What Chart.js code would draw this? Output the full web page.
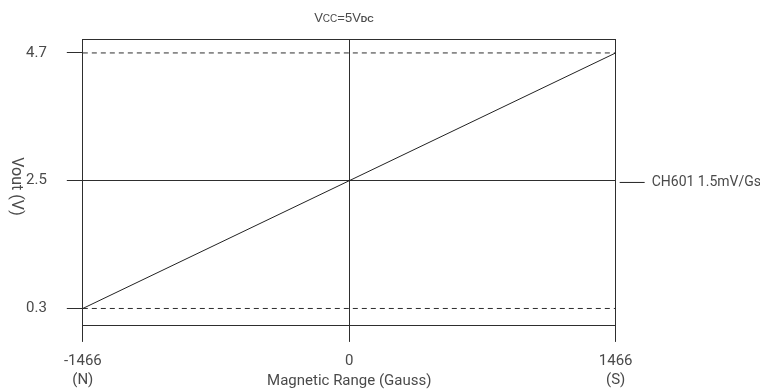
<!DOCTYPE html>
<html>
<head>
<meta charset="utf-8">
<script src="https://cdn.jsdelivr.net/npm/chart.js@4/dist/chart.umd.min.js"></script>
<style>
  html, body { margin: 0; padding: 0; background: #fff; }
  #wrap { width: 760px; height: 391px; position: relative; }
</style>
</head>
<body>
<div id="wrap"><canvas id="c"></canvas></div>
<script>
// ---- data ----
const xTickValues = [-1466, 0, 1466];
const xTickLabels = [["-1466", "(N)"], ["0"], ["1466", "(S)"]];
const yTickValues = [0.3, 2.5, 4.7];
const fieldGauss = [-1466, 0, 1466];
const voutCH601 = [0.3, 2.5, 4.7];
const limitLevels = [0.3, 4.7];
const seriesName = "CH601 1.5mV/Gs";
const xTitle = "Magnetic Range (Gauss)";
const yTitle = "Vout (V)";

const INK = '#2e2e2e';
const TEXT = '#4a4a4a';
const FONT = 'Roboto, "Noto Sans", sans-serif';

const datasets = [{
  label: seriesName,
  data: fieldGauss.map((x, i) => ({ x: x, y: voutCH601[i] })),
  borderColor: '#222222',
  backgroundColor: '#222222',
  borderWidth: 1,
  pointRadius: 0,
  showLine: true,
  order: 0
}];
limitLevels.forEach(lv => {
  datasets.push({
    label: 'limit ' + lv,
    data: [{ x: xTickValues[0], y: lv }, { x: xTickValues[xTickValues.length - 1], y: lv }],
    borderColor: INK,
    borderWidth: 1,
    borderDash: [5, 4],
    pointRadius: 0,
    showLine: true,
    order: 1
  });
});

const framePlugin = {
  id: 'frame',
  afterDatasetsDraw(chart) {
    const { ctx, chartArea: a } = chart;
    const top = Math.round(a.top - 0.5) + 0.5;
    ctx.save();
    ctx.strokeStyle = INK;
    ctx.lineWidth = 1;
    ctx.beginPath();
    ctx.moveTo(chart.scales.x.getPixelForValue(xTickValues[0]), top);
    ctx.lineTo(chart.scales.x.getPixelForValue(xTickValues[xTickValues.length - 1]), top);
    ctx.stroke();
    ctx.restore();
  },
  afterDraw(chart) {
    const { ctx, chartArea: a } = chart;
    ctx.save();
    // top title  Vcc=5VDC
    const parts = [
      { t: 'V', f: '13px Arial, "Liberation Sans", sans-serif' },
      { t: 'CC', f: '10px Arial, "Liberation Sans", sans-serif' },
      { t: '=5V', f: '13px Arial, "Liberation Sans", sans-serif' },
      { t: 'DC', f: 'bold 9px Arial, "Liberation Sans", sans-serif' }
    ];
    let total = 0;
    parts.forEach(p => { ctx.font = p.f; p.w = ctx.measureText(p.t).width; total += p.w; });
    let x = 344 - total / 2;
    ctx.fillStyle = TEXT;
    ctx.textBaseline = 'alphabetic';
    ctx.textAlign = 'left';
    parts.forEach(p => { ctx.font = p.f; ctx.fillText(p.t, x, 22); x += p.w; });
    // y title rotated clockwise
    ctx.translate(16, (a.top + a.bottom) / 2 + 4);
    ctx.rotate(Math.PI / 2);
    ctx.font = '16px ' + FONT;
    ctx.textAlign = 'center';
    ctx.textBaseline = 'middle';
    ctx.fillText(yTitle, 0, 0);
    ctx.restore();
  }
};

new Chart(document.getElementById('c'), {
  type: 'scatter',
  data: { datasets: datasets },
  plugins: [framePlugin],
  options: {
    responsive: true,
    maintainAspectRatio: false,
    animation: false,
    layout: { padding: { top: 39, left: 6, right: -11, bottom: 1 } },
    plugins: {
      title: { display: false },
      tooltip: { enabled: false },
      legend: {
        position: 'right',
        fullSize: false,
        labels: {
          filter: item => item.text === seriesName,
          usePointStyle: true,
          pointStyle: 'line',
          pointStyleWidth: 25,
          boxHeight: 1,
          color: TEXT,
          font: { family: FONT, size: 14 },
          padding: 4
        }
      }
    },
    scales: {
      x: {
        type: 'linear',
        min: xTickValues[0],
        max: xTickValues[xTickValues.length - 1],
        afterBuildTicks: s => { s.ticks = xTickValues.map(v => ({ value: v })); },
        ticks: {
          autoSkip: false,
          maxRotation: 0,
          color: TEXT,
          font: { family: FONT, size: 15, lineHeight: 1.27 },
          padding: 9.5,
          callback: v => xTickLabels[xTickValues.indexOf(v)]
        },
        grid: { color: INK, lineWidth: 1, tickLength: 16, tickColor: INK },
        border: { color: INK },
        title: {
          display: true, text: xTitle, color: TEXT,
          font: { family: FONT, size: 15 },
          padding: { top: -27, bottom: 0 }
        }
      },
      y: {
        type: 'linear',
        min: 0,
        max: 4.94,
        afterBuildTicks: s => { s.ticks = yTickValues.map(v => ({ value: v })); },
        ticks: {
          autoSkip: false,
          color: TEXT,
          font: { family: FONT, size: 15 },
          padding: 20,
          callback: v => v.toFixed(1)
        },
        grid: {
          color: c => (c.tick && c.tick.value === 2.5) ? INK : 'rgba(0,0,0,0)',
          lineWidth: 1, tickLength: 16, tickColor: INK
        },
        border: { color: INK }
      }
    }
  }
});
</script>
</body>
</html>
